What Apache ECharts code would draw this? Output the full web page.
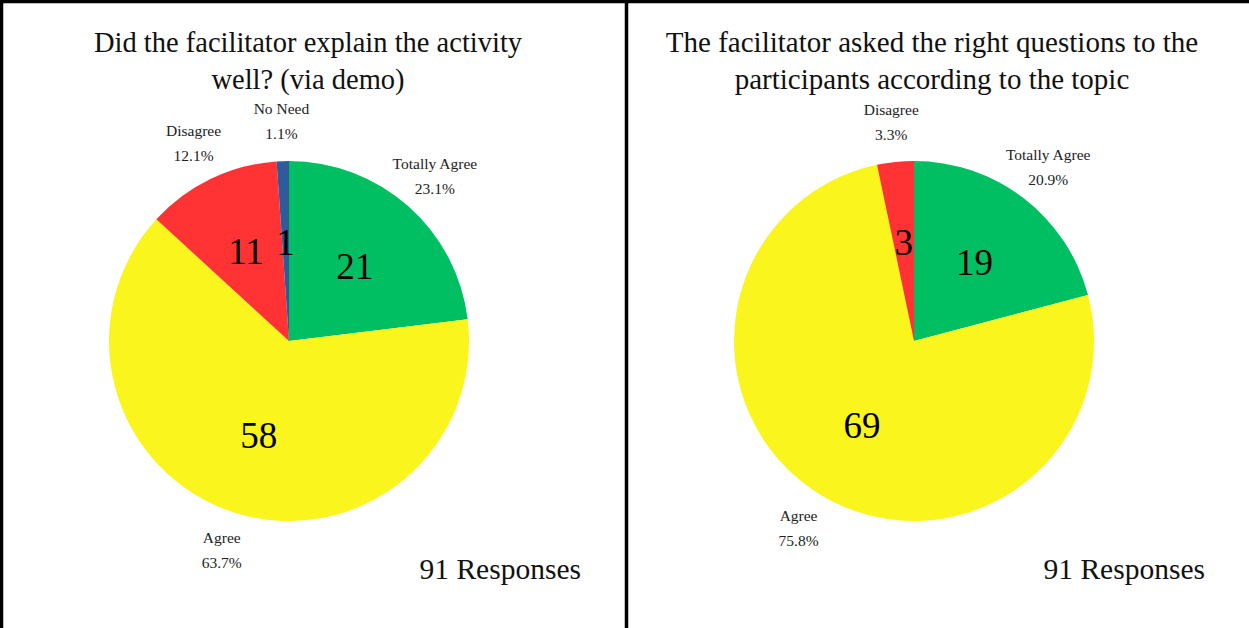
<!DOCTYPE html>
<html>
<head>
<meta charset="utf-8">
<script src="https://cdn.jsdelivr.net/npm/echarts@6/dist/echarts.min.js"></script>
<style>
  html, body { margin: 0; padding: 0; background: #fff; }
  #main { width: 1249px; height: 628px; }
</style>
</head>
<body>
<div id="main"></div>
<script>
// data
const leftTitle = 'Did the facilitator explain the activity\nwell? (via demo)';
const leftCategories = ['Totally Agree', 'Agree', 'Disagree', 'No Need'];
const leftValues = [21, 58, 11, 1];

const rightTitle = 'The facilitator asked the right questions to the\nparticipants according to the topic';
const rightCategories = ['Totally Agree', 'Agree', 'Disagree'];
const rightValues = [19, 69, 3];

const responsesText = '91 Responses';

const sliceColors = {
  'Totally Agree': '#00bf63',
  'Agree': '#faf51c',
  'Disagree': '#ff3333',
  'No Need': '#2e5b9a'
};

const serif = '"Liberation Serif", "DejaVu Serif", serif';

var chartDom = document.getElementById('main');
var myChart = echarts.init(chartDom, null, { renderer: 'svg' });

function buildData(cats, vals) {
  return cats.map(function (c, i) {
    return { name: c, value: vals[i], itemStyle: { color: sliceColors[c] } };
  });
}

// the coloured slices, no labels
function mainPie(cx, cats, vals) {
  return {
    type: 'pie',
    center: [cx, 341],
    radius: [0, 180],
    startAngle: 90,
    clockwise: true,
    silent: true,
    data: buildData(cats, vals),
    itemStyle: { borderWidth: 0 },
    label: { show: false },
    labelLine: { show: false }
  };
}

// transparent ring placing the counts
function countLabels(cx, cats, vals) {
  return {
    type: 'pie',
    center: [cx, 341],
    radius: [0, 192],
    startAngle: 90,
    clockwise: true,
    silent: true,
    data: cats.map(function (c, i) { return { name: c, value: vals[i] }; }),
    itemStyle: { color: 'rgba(0,0,0,0)', borderWidth: 0 },
    label: {
      show: true,
      position: 'inside',
      formatter: '{c}',
      fontFamily: serif,
      fontSize: 37,
      color: '#000'
    },
    labelLine: { show: false }
  };
}

// transparent ring, only used to place the name / percent labels
function outerLabels(cx, cats, vals) {
  return {
    type: 'pie',
    center: [cx, 341],
    radius: [196, 238],
    startAngle: 90,
    clockwise: true,
    silent: true,
    percentPrecision: 1,
    data: cats.map(function (c, i) { return { name: c, value: vals[i] }; }),
    itemStyle: { color: 'rgba(0,0,0,0)', borderWidth: 0 },
    label: {
      show: true,
      position: 'inside',
      formatter: '{b}\n{d}%',
      fontFamily: serif,
      fontSize: 15.5,
      lineHeight: 25,
      color: '#222'
    },
    labelLine: { show: false }
  };
}

var option = {
  backgroundColor: '#fff',
  animation: false,
  series: [
    mainPie(289, leftCategories, leftValues),
    countLabels(289, leftCategories, leftValues),
    outerLabels(289, leftCategories, leftValues),
    mainPie(914, rightCategories, rightValues),
    countLabels(914, rightCategories, rightValues),
    outerLabels(914, rightCategories, rightValues)
  ],
  graphic: [
    // frame and divider
    { type: 'rect', shape: { x: 1.5, y: 1.5, width: 1270, height: 650 },
      style: { fill: 'none', stroke: '#000', lineWidth: 3.5 }, silent: true },
    { type: 'line', shape: { x1: 626.5, y1: 0, x2: 626.5, y2: 628 },
      style: { stroke: '#000', lineWidth: 3.5 }, silent: true },
    // titles
    { type: 'text', x: 308, y: 24,
      style: { text: leftTitle, font: '28.5px ' + serif, textAlign: 'center', lineHeight: 37, fill: '#111' } },
    { type: 'text', x: 932, y: 23,
      style: { text: rightTitle, font: '29px ' + serif, textAlign: 'center', lineHeight: 37, fill: '#111' } },
    // response counts
    { type: 'text', x: 581, y: 569,
      style: { text: responsesText, font: '29.5px ' + serif, textAlign: 'right', textVerticalAlign: 'middle', fill: '#111' } },
    { type: 'text', x: 1205, y: 569,
      style: { text: responsesText, font: '29.5px ' + serif, textAlign: 'right', textVerticalAlign: 'middle', fill: '#111' } }
  ]
};

myChart.setOption(option);
</script>
</body>
</html>
